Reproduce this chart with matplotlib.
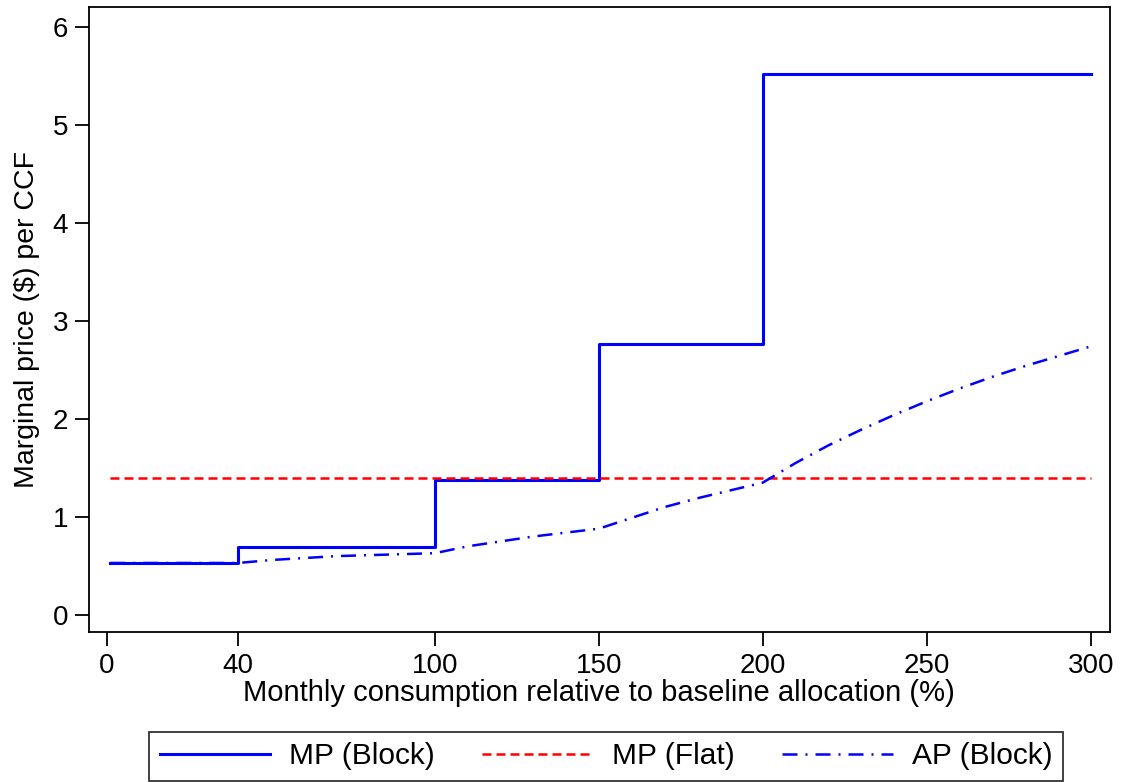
import numpy as np
import matplotlib.pyplot as plt

plt.rcParams['font.family'] = ['Liberation Sans', 'DejaVu Sans']

# block tariff steps (% of baseline allocation, $ per CCF)
block_edges = [1, 40, 100, 150, 200, 300]
block_prices = [0.53, 0.69, 1.38, 2.76, 5.52]

flat_x = [1, 300]
flat_price = [1.40, 1.40]

# average price under the block tariff
ap_x = [1, 40, 50, 60, 70, 80, 90, 100, 110, 120, 130, 140, 150, 160, 170, 180,
        190, 200, 210, 220, 230, 240, 250, 260, 270, 280, 290, 300]
ap_y = [0.53, 0.53, 0.56, 0.58, 0.60, 0.61, 0.62, 0.63, 0.70, 0.75, 0.80, 0.84,
        0.88, 0.99, 1.10, 1.19, 1.27, 1.35, 1.55, 1.73, 1.89, 2.04, 2.18, 2.31,
        2.43, 2.54, 2.64, 2.74]

xticks = [0, 40, 100, 150, 200, 250, 300]
yticks = [0, 1, 2, 3, 4, 5, 6]

fig = plt.figure(figsize=(11.22, 7.82), dpi=100)
ax = fig.add_axes([0.0793, 0.192, 0.9097, 0.799])

mp_x = np.repeat(block_edges, 2)[1:-1]
mp_y = np.repeat(block_prices, 2)

l1, = ax.plot(mp_x, mp_y, color='#0000ff', lw=2.2, label='MP (Block)')
l2, = ax.plot(flat_x, flat_price, color='#ff0000', lw=1.8, ls=(0, (3.6, 2)), label='MP (Flat)')
l3, = ax.plot(ap_x, ap_y, color='#0000ff', lw=1.8, ls=(0, (6, 3.2, 0.8, 3.2)), label='AP (Block)')

ax.set_xlim(-5.5, 305.8)
ax.set_ylim(-0.173, 6.204)
ax.set_xticks(xticks)
ax.set_yticks(yticks)
ax.tick_params(direction='out', length=10, width=1.3, labelsize=20, pad=5)
for s in ax.spines.values():
    s.set_linewidth(1.3)

ax.set_xlabel('Monthly consumption relative to baseline allocation (%)', fontsize=21, labelpad=0)
ax.set_ylabel('Marginal price ($) per CCF', fontsize=20.5, labelpad=9)

leg = fig.legend(handles=[l1, l2, l3], loc='lower center', bbox_to_anchor=(0.540, -0.006),
                 ncol=3, fontsize=21.5, frameon=True, fancybox=False, edgecolor='black',
                 handlelength=3.7, handletextpad=0.63, columnspacing=1.6,
                 borderpad=0.35, borderaxespad=0.2)
leg.get_frame().set_linewidth(1.3)

fig.savefig('out.png', dpi=100)
